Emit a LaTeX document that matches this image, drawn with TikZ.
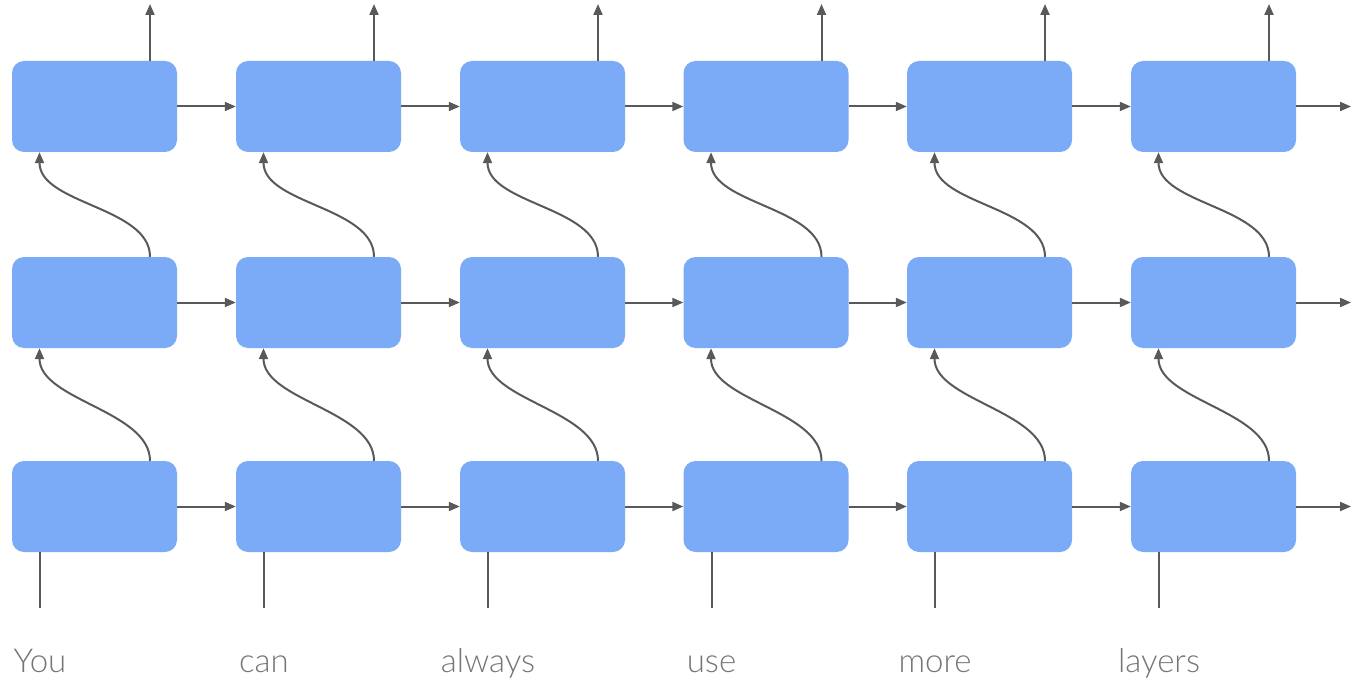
\documentclass[tikz,border=0pt]{standalone}
\usepackage{fontspec}
\setmainfont{Lato}[UprightFont={* Light}]
\usetikzlibrary{arrows.meta}
\definecolor{cellblue}{HTML}{7BAAF7}
\definecolor{wire}{HTML}{595959}
\definecolor{wordgray}{HTML}{757575}
\tikzset{
  cell/.style={fill=cellblue, draw=none, rounded corners=12pt,
    minimum width=165pt, minimum height=91pt, inner sep=0pt},
  flow/.style={draw=wire, line width=2pt, -{Triangle[length=11pt,width=9pt]}},
  feed/.style={draw=wire, line width=2pt},
  word/.style={anchor=base, text=wordgray, font=\fontsize{33}{40}\selectfont, inner sep=0pt}
}
\begin{document}
\begin{tikzpicture}[x=1pt,y=-1pt]
\useasboundingbox (0,0) rectangle (1351,679);
% grid of recurrent cells: rows 1..3 (top to bottom), columns 1..6
\foreach \c/\x in {1/94.5,2/318.5,3/542.5,4/766,5/989.5,6/1213.5}{
  \foreach \r/\y in {1/106.5,2/302.5,3/506.5}{
    \node[cell] (b-\r-\c) at (\x,\y) {};
  }
  \coordinate (out-\c) at (\x+55.5,4);
  \coordinate (in-\c) at (\x-54.5,608);
}
% words fed into the bottom row
\node[word] (w-1) at (40,672) {You};
\node[word] (w-2) at (264,672) {can};
\node[word] (w-3) at (488,672) {always};
\node[word] (w-4) at (711.5,672) {use};
\node[word] (w-5) at (935,672) {more};
\node[word] (w-6) at (1159,672) {layers};
% free ends of the last column
\coordinate (e-1) at (1351,106.5);
\coordinate (e-2) at (1351,302.5);
\coordinate (e-3) at (1351,506.5);
% horizontal recurrences
\foreach \r in {1,2,3}{
  \foreach \c/\n in {1/2,2/3,3/4,4/5,5/6}{
    \draw[flow] (b-\r-\c.east) -- (b-\r-\n.west);
  }
  \draw[flow] (b-\r-6.east) -- (e-\r);
}
% vertical links between layers, outputs and inputs
\foreach \c in {1,...,6}{
  \draw[flow] ([xshift=55.5pt]b-1-\c.north) -- (out-\c);
  \draw[feed] (in-\c) -- ([xshift=-54.5pt]b-3-\c.south);
  \draw[flow] ([xshift=55.5pt]b-2-\c.north) .. controls ([xshift=55.5pt,yshift=50pt]b-2-\c.north) and ([xshift=-55pt,yshift=-52pt]b-1-\c.south) .. ([xshift=-55pt]b-1-\c.south);
  \draw[flow] ([xshift=55.5pt]b-3-\c.north) .. controls ([xshift=55.5pt,yshift=50pt]b-3-\c.north) and ([xshift=-55pt,yshift=-52pt]b-2-\c.south) .. ([xshift=-55pt]b-2-\c.south);
}
\end{tikzpicture}
\end{document}
